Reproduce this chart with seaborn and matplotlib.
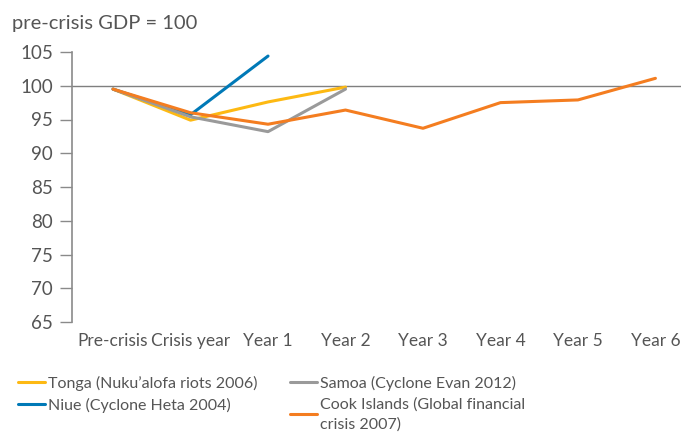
import numpy as np
import pandas as pd
import matplotlib
matplotlib.use("Agg")
import matplotlib.pyplot as plt
import seaborn as sns
from matplotlib.lines import Line2D

categories = ["Pre-crisis", "Crisis year", "Year 1", "Year 2", "Year 3", "Year 4", "Year 5", "Year 6"]
tonga = [99.5, 94.9, 97.6, 99.8]
samoa = [99.5, 95.4, 93.2, 99.5]
niue = [99.5, 95.7, 104.4]
cook = [99.5, 96.0, 94.3, 96.4, 93.7, 97.5, 97.9, 101.1]

series_names = [
    "Tonga (Nuku\u2019alofa riots 2006)",
    "Niue (Cyclone Heta 2004)",
    "Samoa (Cyclone Evan 2012)",
    "Cook Islands (Global financial\ncrisis 2007)",
]
series_values = [tonga, niue, samoa, cook]
colors = ["#FDB913", "#0079B7", "#9A9A9A", "#F47D20"]
yticks = [65, 70, 75, 80, 85, 90, 95, 100, 105]

rows = []
for name, vals in zip(series_names, series_values):
    for i, v in enumerate(vals):
        rows.append({"series": name, "idx": i, "value": v})
df = pd.DataFrame(rows)

sns.set_theme(style="white")
plt.rcParams['font.family'] = ['Lato', 'DejaVu Sans']

fig = plt.figure(figsize=(6.81, 4.38), dpi=100)
ax = fig.add_axes([72/681, 1 - 322/438, (681-72)/681, (322-52)/438])

sns.lineplot(data=df, x="idx", y="value", hue="series", hue_order=series_names,
             palette=colors, linewidth=2.2, ax=ax, legend=False, sort=False)

ax.axhline(100, color="#7f7f7f", linewidth=1.0, zorder=0)

ax.set_ylim(65, 105)
ax.set_xlim(-0.53, 7.33)
ax.set_yticks(yticks)
ax.set_yticklabels([str(t) for t in yticks], fontsize=13.5, color="#555555")
ax.set_xticks(range(len(categories)))
ax.set_xticklabels(categories, fontsize=12.5, color="#555555")
ax.tick_params(axis="y", length=8.6, width=1.0, color="#8a8a8a", pad=5, direction="out", left=True)
ax.tick_params(axis="x", length=0, pad=8)
ax.set_xlabel("")
ax.set_ylabel("")
for s in ["top", "right", "bottom"]:
    ax.spines[s].set_visible(False)
ax.spines["left"].set_color("#8a8a8a")
ax.spines["left"].set_linewidth(1.2)

fig.text(12/681, 1 - 24/438, "pre-crisis GDP = 100", fontsize=14.5, color="#555555", va="center", ha="left")

handles = [Line2D([0], [0], color=c, linewidth=2.2) for c in colors]
leg = fig.legend(handles, series_names, loc="upper left", bbox_to_anchor=(18/681, 1 - 376/438),
                 ncol=2, frameon=False, fontsize=11.5, handlelength=1.7, handletextpad=0.2,
                 columnspacing=2.0, labelspacing=0.4, borderaxespad=0, borderpad=0)
for t in leg.get_texts():
    t.set_color("#555555")
    t.set_linespacing(1.45)

fig.savefig("out.png", dpi=100)
